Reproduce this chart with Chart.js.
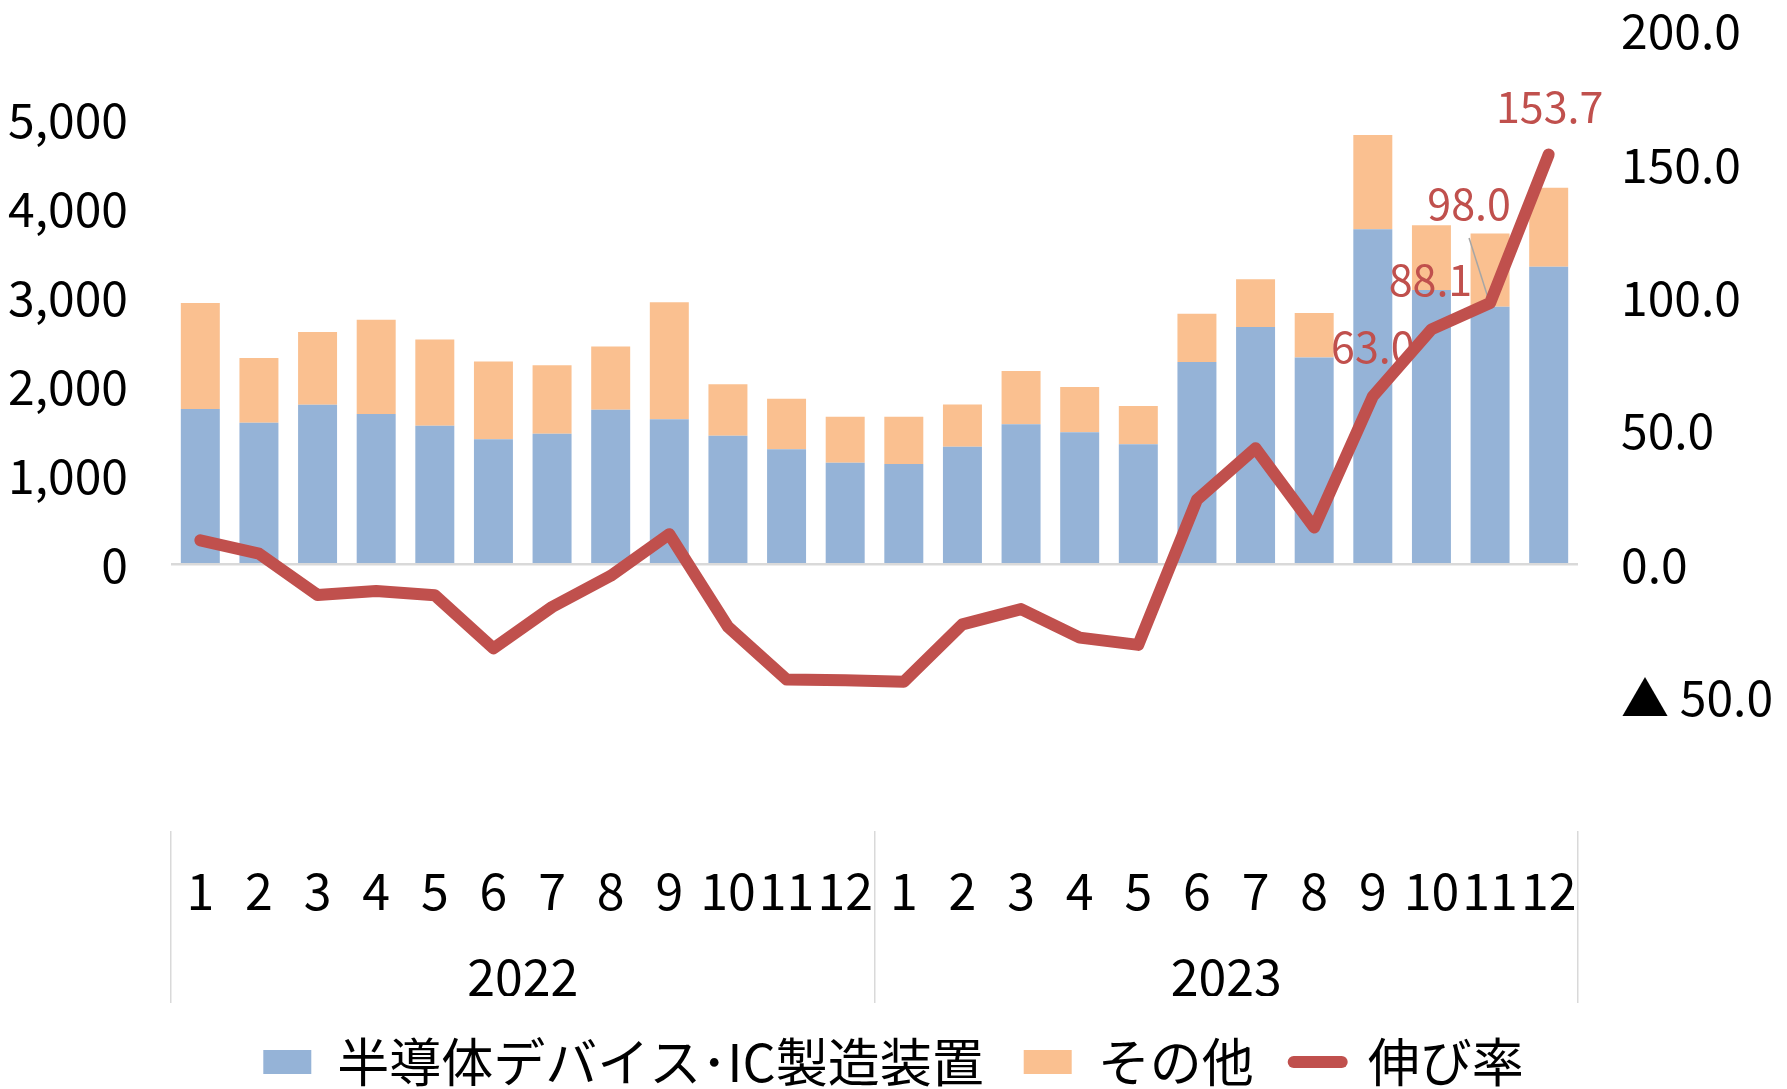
<!DOCTYPE html>
<html>
<head>
<meta charset="utf-8">
<script src="https://cdn.jsdelivr.net/npm/chart.js@4.4.1/dist/chart.umd.min.js"></script>
<style>
html,body{margin:0;padding:0;background:#fff;}
#wrap{width:1787px;height:1089px;position:relative;}
</style>
</head>
<body>
<div id="wrap"><canvas id="c"></canvas></div>
<script>
// ---- data ----
const months = ['1','2','3','4','5','6','7','8','9','10','11','12','1','2','3','4','5','6','7','8','9','10','11','12'];
const years = ['2022','2023'];
const seriesNames = ['半導体デバイス･IC製造装置', 'その他', '伸び率'];
const semiIC = [1747,1592,1794,1691,1558,1408,1468,1738,1631,1446,1296,1142,
                1129,1322,1575,1485,1352,2275,2670,2326,3771,3085,2897,3347];
const others = [1193,730,820,1060,970,875,772,713,1317,580,567,519,
                532,476,601,511,429,545,536,502,1058,731,826,889];
const growthRate = [9.0,4.0,-11.5,-10.0,-11.6,-31.5,-16.0,-4.3,11.3,-23.4,-43.2,-43.5,
                    -44.0,-22.5,-16.8,-27.5,-30.2,24.2,43.5,13.8,63.0,88.1,98.0,153.7];
const labeledPoints = [20,21,22,23];
const leftTicks = {min:-3000, max:6000, step:1000};
const rightTicks = {min:-100, max:200, step:50};

// ---- style ----
const FONT = '"Noto Sans CJK JP", "Noto Sans", sans-serif';
const BLUE = '#95B3D7', ORANGE = '#FAC090', RED = '#C0504D', GRID = '#D9D9D9';
const labelOffsets = [[0,-50],[-1,-50],[-21,-99],[1,-48]];
const leaderFor = [false,false,true,false];

Chart.defaults.font.family = FONT;
Chart.defaults.color = '#000';

const pointLabels = {
  id: 'pointLabels',
  afterDatasetDraw(chart, args) {
    if (args.index !== 0) return; // after the last bar series drawn, before the line
    const meta = chart.getDatasetMeta(2);
    const ctx = chart.ctx;
    ctx.save();
    ctx.font = '43px ' + FONT;
    ctx.textAlign = 'center';
    ctx.textBaseline = 'middle';
    labeledPoints.forEach((idx, k) => {
      const el = meta.data[idx];
      const x = el.x + labelOffsets[k][0];
      const y = el.y + labelOffsets[k][1];
      if (leaderFor[k]) {
        ctx.strokeStyle = '#A6A6A6';
        ctx.lineWidth = 1.5;
        ctx.beginPath();
        ctx.moveTo(x, y + 34);
        ctx.lineTo(el.x - 1, el.y - 2);
        ctx.stroke();
      }
      ctx.fillStyle = RED;
      ctx.fillText(growthRate[idx].toFixed(1), x, y);
    });
    ctx.restore();
  }
};

new Chart(document.getElementById('c'), {
  data: {
    labels: months,
    datasets: [
      { type: 'bar', label: seriesNames[0], data: semiIC, backgroundColor: BLUE,
        yAxisID: 'y', order: 2, barPercentage: 0.665, categoryPercentage: 1 },
      { type: 'bar', label: seriesNames[1], data: others, backgroundColor: ORANGE,
        yAxisID: 'y', order: 3, barPercentage: 0.665, categoryPercentage: 1 },
      { type: 'line', label: seriesNames[2], data: growthRate, borderColor: RED, backgroundColor: RED,
        borderWidth: 12, pointRadius: 0, pointHoverRadius: 0, tension: 0,
        borderCapStyle: 'round', borderJoinStyle: 'round', yAxisID: 'y1', order: 1 }
    ]
  },
  options: {
    responsive: true,
    maintainAspectRatio: false,
    animation: false,
    events: [],
    layout: { padding: { top: 31, left: 0, right: 0, bottom: 0 } },
    plugins: {
      tooltip: { enabled: false },
      legend: {
        position: 'bottom',
        maxHeight: 93,
        maxWidth: 1768,
        labels: {
          font: { size: 52, family: FONT },
          color: '#000',
          usePointStyle: true,
          pointStyleWidth: 48,
          boxHeight: 24,
          padding: 40,
          generateLabels: (chart) => chart.data.datasets.map((ds, i) => ({
            text: ds.label,
            fillStyle: ds.type === 'line' ? ds.borderColor : ds.backgroundColor,
            strokeStyle: ds.type === 'line' ? ds.borderColor : ds.backgroundColor,
            lineWidth: ds.type === 'line' ? 12 : 0,
            lineCap: 'round',
            pointStyle: ds.type === 'line' ? 'line' : 'rect',
            hidden: false,
            datasetIndex: i,
            fontColor: '#000'
          }))
        }
      }
    },
    scales: {
      x: {
        type: 'category',
        position: 'bottom',
        stacked: true,
        offset: true,
        weight: 0,
        border: { display: false },
        grid: {
          offset: true,
          drawOnChartArea: false,
          drawTicks: true,
          tickLength: 89,
          lineWidth: 1.5,
          color: (c) => (c.index === undefined || c.index % 12 === 0) ? GRID : 'rgba(0,0,0,0)'
        },
        ticks: { font: { size: 50, lineHeight: 1 }, color: '#000', padding: -54, autoSkip: false, maxRotation: 0, minRotation: 0 },
        afterFit: (s) => { s.height = 89; }
      },
      x2: {
        type: 'category',
        labels: years,
        position: 'bottom',
        offset: true,
        weight: 1,
        border: { display: false },
        grid: {
          offset: true,
          drawOnChartArea: false,
          drawTicks: true,
          tickLength: 83,
          lineWidth: 1.5,
          color: GRID
        },
        ticks: { font: { size: 50, lineHeight: 1 }, color: '#000', padding: -51, autoSkip: false, maxRotation: 0, minRotation: 0 },
        afterFit: (s) => { s.height = 76; }
      },
      y: {
        position: 'left',
        stacked: true,
        min: leftTicks.min, max: leftTicks.max,
        border: { display: false },
        grid: {
          drawTicks: true,
          tickLength: 43,
          tickColor: 'rgba(0,0,0,0)',
          lineWidth: 2.5,
          color: (c) => (c.tick && c.tick.value === 0) ? GRID : 'rgba(0,0,0,0)'
        },
        ticks: {
          stepSize: leftTicks.step,
          padding: 0,
          font: { size: 48 },
          color: '#000',
          callback: (v) => (v < 0 || v > 5000) ? '' : v.toLocaleString('en-US')
        },
        afterFit: (s) => { s.width = 171; }
      },
      y1: {
        position: 'right',
        min: rightTicks.min, max: rightTicks.max,
        border: { display: false },
        grid: { drawOnChartArea: false, drawTicks: true, tickLength: 43, tickColor: 'rgba(0,0,0,0)' },
        ticks: {
          stepSize: rightTicks.step,
          padding: 0,
          font: { size: 48 },
          color: '#000',
          callback: (v) => v <= -100 ? '' : (v < 0 ? '▲ ' + Math.abs(v).toFixed(1) : v.toFixed(1))
        },
        afterFit: (s) => { s.width = 209; }
      }
    }
  },
  plugins: [pointLabels]
});
</script>
</body>
</html>
